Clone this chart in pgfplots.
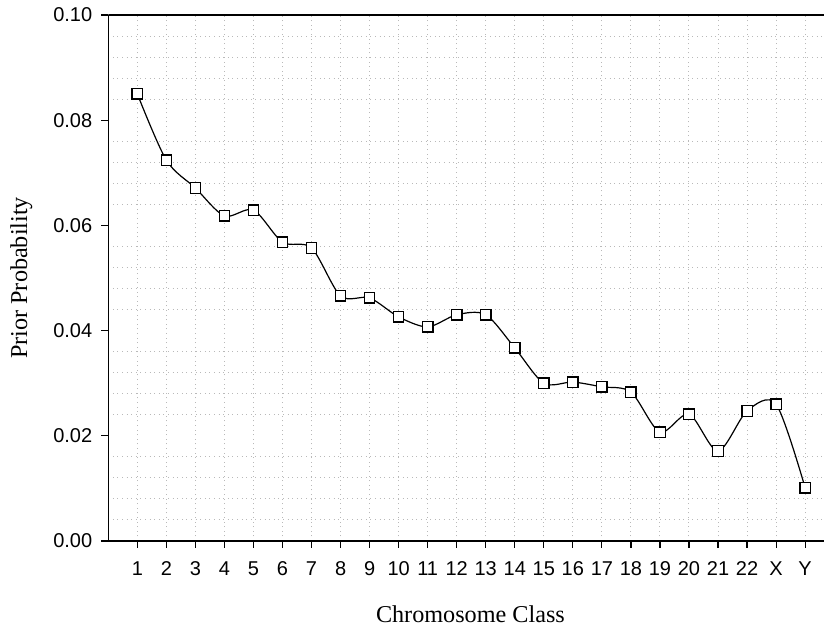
\documentclass[border=0pt]{standalone}
\usepackage{pgfplots}
\pgfplotsset{compat=1.18}
\usepackage{fontspec}
\setmainfont{Liberation Serif}
\setsansfont{Liberation Sans}

\begin{document}
\begin{tikzpicture}
\begin{axis}[
  scale only axis, width=357.9pt, height=263pt,
  xmin=0, xmax=24.65, ymin=0, ymax=0.1,
  axis x line*=bottom, axis y line*=left,
  axis line style={line width=0.65pt, -},
  tick align=outside, major tick length=3.5pt, minor tick length=0pt,
  every tick/.style={black, line width=0.6pt},
  xtick={1,...,24},
  xticklabels={1,2,3,4,5,6,7,8,9,10,11,12,13,14,15,16,17,18,19,20,21,22,X,Y},
  ytick={0,0.02,0.04,0.06,0.08,0.1},
  minor y tick num=4,
  xmajorgrids, yminorgrids,
  major grid style={gray!55, line width=0.5pt, dash pattern=on 0.5pt off 1.8pt},
  minor grid style={gray!55, line width=0.5pt, dash pattern=on 0.5pt off 1.8pt},
  /pgf/number format/assume math mode=true,
  tick label style={font=\sffamily\fontsize{10}{11}\selectfont},
  xticklabel style={yshift=-3.5pt},
  yticklabel style={xshift=-1pt},
  y tick label style={/pgf/number format/.cd, fixed, fixed zerofill, precision=2},
  xlabel={Chromosome Class}, ylabel={Prior Probability},
  label style={font=\fontsize{12.1}{14}\selectfont},
  xlabel style={at={(axis description cs:0.506,-0.1397)}, anchor=center},
  ylabel style={at={(axis description cs:-0.1213,0.5)}, anchor=center},
]
\coordinate (sw) at (rel axis cs:0,0);
\coordinate (ne) at (rel axis cs:1,1);
\draw[line width=0.65pt] (rel axis cs:0,1) -- (rel axis cs:1,1);
\addplot[black, line width=0.6pt, smooth, mark=square*, mark size=2.6pt,
  mark options={fill=white, line width=0.65pt, solid}] coordinates {
  (1,0.0850) (2,0.0724) (3,0.0671) (4,0.0618) (5,0.0629) (6,0.0568)
  (7,0.0557) (8,0.0466) (9,0.0462) (10,0.0426) (11,0.0407) (12,0.0430)
  (13,0.0430) (14,0.0367) (15,0.0300) (16,0.0302) (17,0.0293) (18,0.0283)
  (19,0.0207) (20,0.0241) (21,0.0171) (22,0.0247) (23,0.0260) (24,0.0101)
};
\end{axis}
\pgfresetboundingbox
\path[use as bounding box] ([shift={(-54.15pt,-44pt)}]sw) rectangle ([shift={(0pt,7.5pt)}]ne);
\end{tikzpicture}
\end{document}
